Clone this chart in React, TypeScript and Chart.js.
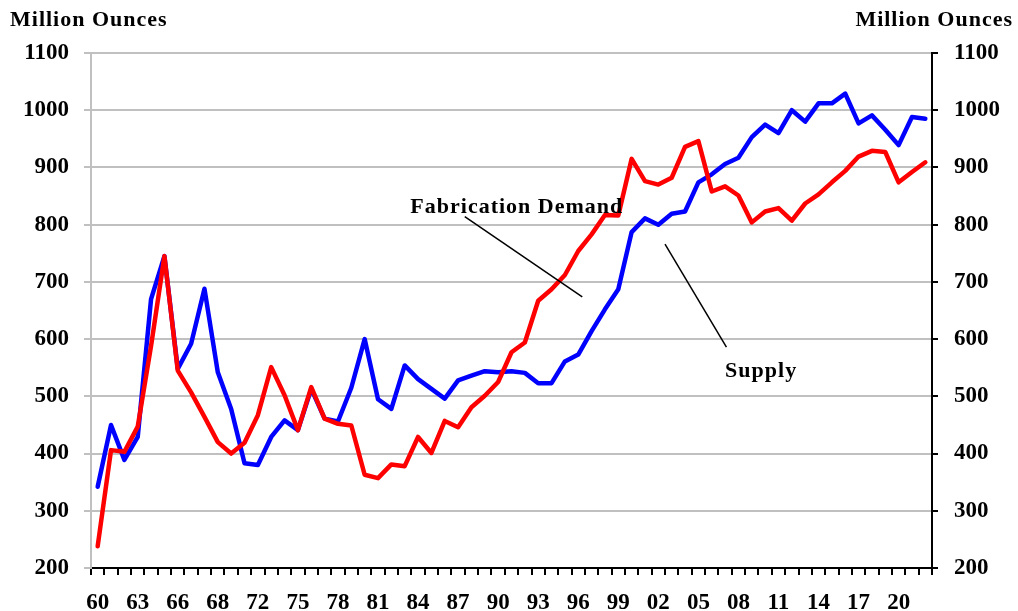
import React, { useEffect, useRef } from "react";
import { Chart, registerables } from "chart.js";

Chart.register(...registerables);

const years: string[] = Array.from({ length: 63 }, (_, i) => String(1960 + i));

const tickLabels = [
  "60", "63", "66", "68", "72", "75", "78", "81", "84", "87", "90",
  "93", "96", "99", "02", "05", "08", "11", "14", "17", "20",
];

const supply = [
  342, 450, 389, 429, 670, 745, 548, 592, 688, 542,
  478, 383, 380, 429, 458, 441, 513, 461, 456, 515,
  600, 495, 478, 554, 530, 513, 496, 528, 536, 544,
  542, 544, 541, 523, 523, 561, 573, 614, 652, 687,
  787, 811, 800, 819, 823, 874, 888, 906, 917, 953,
  975, 960, 1000, 980, 1012, 1012, 1029, 977, 991, 966,
  939, 988, 985,
];

const fabricationDemand = [
  238, 406, 403, 447, 588, 745, 545, 507, 464, 420,
  400, 419, 467, 551, 502, 441, 516, 461, 452, 449,
  363, 357, 381, 378, 429, 401, 457, 446, 481, 501,
  525, 577, 594, 667, 687, 712, 754, 783, 817, 816,
  915, 876, 870, 882, 936, 946, 858, 867, 851, 804,
  823, 829, 807, 837, 853, 874, 894, 919, 929, 927,
  874, 892, 909,
];

const yMin = 200;
const yMax = 1100;
const yStep = 100;
const axisTitle = "Million Ounces";

// annotations in data units: [categoryIndex, value]
const fabLabel = { text: "Fabrication Demand", at: [31.4, 820] };
const fabPointer = [[27.5, 814], [36.3, 674]];
const supplyLabel = { text: "Supply", at: [49.7, 534] };
const supplyPointer = [[42.5, 766], [47.1, 586]];

const FONT = '"Liberation Serif", "Times New Roman", Times, serif';
const GRID = "#c0c0c0";

const overlay = {
  id: "overlayText",
  afterDraw(chart: any) {
    const ctx = chart.ctx;
    const xs = chart.scales.x;
    const ys = chart.scales.y;
    ctx.save();
    ctx.fillStyle = "#000";
    ctx.font = `bold 22px ${FONT}`;
    try { (ctx as any).letterSpacing = "1px"; } catch (e) {}
    ctx.textBaseline = "alphabetic";
    ctx.textAlign = "left";
    ctx.fillText(axisTitle, 10, 26);
    ctx.textAlign = "right";
    ctx.fillText(axisTitle, chart.width - 5, 26);
    ctx.textAlign = "center";
    for (const lab of [fabLabel, supplyLabel]) {
      ctx.fillText(lab.text, xs.getPixelForValue(lab.at[0]), ys.getPixelForValue(lab.at[1]));
    }
    ctx.strokeStyle = "#000";
    ctx.lineWidth = 1.5;
    for (const p of [fabPointer, supplyPointer]) {
      ctx.beginPath();
      ctx.moveTo(xs.getPixelForValue(p[0][0]), ys.getPixelForValue(p[0][1]));
      ctx.lineTo(xs.getPixelForValue(p[1][0]), ys.getPixelForValue(p[1][1]));
      ctx.stroke();
    }
    ctx.restore();
  },
};

export default function App() {
  const ref = useRef<HTMLCanvasElement>(null);
  useEffect(() => {
    let chart: any = null;
    let cancelled = false;
    const build = () => {
      if (cancelled || !ref.current) return;
      const tickFont = { family: FONT, size: 23, weight: "bold" as const };
      chart = new Chart(ref.current, {
        type: "line",
        data: {
          labels: years,
          datasets: [
            {
              label: "Fabrication Demand",
              data: fabricationDemand,
              borderColor: "#ff0000",
              backgroundColor: "#ff0000",
              borderWidth: 4.5,
              pointRadius: 0,
              tension: 0,
              borderJoinStyle: "round",
              borderCapStyle: "round",
              order: 0,
              yAxisID: "y",
            },
            {
              label: "Supply",
              data: supply,
              borderColor: "#0000ff",
              backgroundColor: "#0000ff",
              borderWidth: 4.5,
              pointRadius: 0,
              tension: 0,
              borderJoinStyle: "round",
              borderCapStyle: "round",
              order: 1,
              yAxisID: "y",
            },
          ],
        },
        options: {
          responsive: false,
          animation: false,
          devicePixelRatio: 1,
          layout: { padding: { top: 53, left: 0, right: 0, bottom: 0 } },
          plugins: { legend: { display: false }, tooltip: { enabled: false }, title: { display: false } },
          scales: {
            x: {
              type: "category",
              offset: true,
              z: 1,
              grid: {
                offset: true,
                drawOnChartArea: false,
                drawTicks: true,
                tickLength: 7,
                color: "#000",
                lineWidth: 2,
              },
              border: { color: "#000", width: 2 },
              ticks: {
                autoSkip: false,
                maxRotation: 0,
                minRotation: 0,
                padding: 14,
                color: "#000",
                font: tickFont,
                callback: (_v: any, i: number) => (i % 3 === 0 ? tickLabels[i / 3] : ""),
              },
              afterFit: (s: any) => { s.height = 43; },
            },
            y: {
              position: "left",
              min: yMin,
              max: yMax,
              grid: { color: GRID, lineWidth: 2, tickLength: 7 },
              border: { color: GRID, width: 2 },
              ticks: { stepSize: yStep, padding: 15, color: "#000", font: tickFont, callback: (v: any) => String(v) },
              afterFit: (s: any) => { s.width = 91; },
            },
            y2: {
              position: "right",
              min: yMin,
              max: yMax,
              grid: { drawOnChartArea: false, color: "#000", lineWidth: 2, tickLength: 6 },
              border: { color: "#000", width: 2 },
              ticks: { stepSize: yStep, padding: 16, color: "#000", font: tickFont, callback: (v: any) => String(v) },
              afterFit: (s: any) => { s.width = 86; },
            },
          },
        },
        plugins: [overlay],
      });
    };
    const fontsApi: any = (document as any).fonts;
    if (fontsApi && fontsApi.load) {
      Promise.all([
        fontsApi.load('bold 23px "Liberation Serif"'),
        fontsApi.load('bold 22px "Liberation Serif"'),
      ]).then(build, build);
    } else {
      build();
    }
    return () => {
      cancelled = true;
      if (chart) chart.destroy();
    };
  }, []);
  return (
    <div style={{ position: "absolute", left: 0, top: 0, width: 1018, height: 611, background: "#fff" }}>
      <span style={{ position: "absolute", left: -9999, fontFamily: '"Liberation Serif"', fontWeight: "bold" }}>0</span>
      <canvas ref={ref} width={1018} height={611} />
    </div>
  );
}
